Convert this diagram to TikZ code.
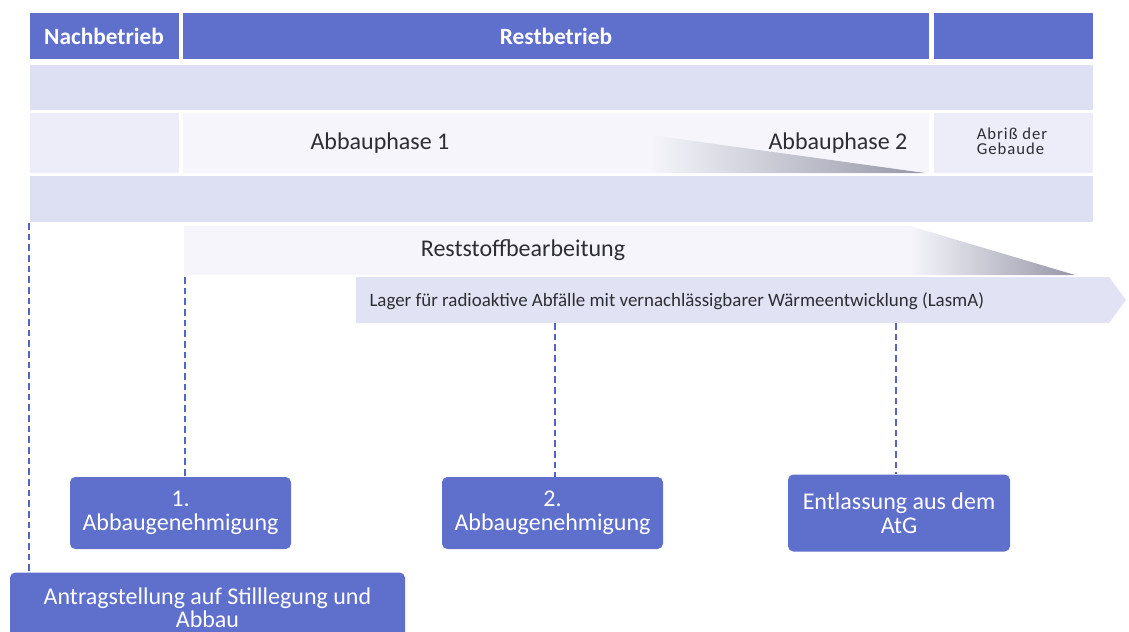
\documentclass[tikz,border=0pt]{standalone}
\usepackage{fontspec}
\setmainfont{Carlito}
\usetikzlibrary{positioning}

\definecolor{hdrblue}{RGB}{94,111,204}
\definecolor{bandlav}{RGB}{221,223,243}
\definecolor{celllav}{RGB}{236,237,248}
\definecolor{rowwhite}{RGB}{245,245,251}
\definecolor{lagerlav}{RGB}{225,227,245}
\definecolor{dashblue}{RGB}{84,100,196}
\definecolor{txtgrey}{RGB}{45,45,52}
\definecolor{wedgegrey}{RGB}{150,150,168}

\tikzset{every picture/.style={line width=0.75pt}}
\tikzset{
  hdrtext/.style={text=white, font=\bfseries\fontsize{17.5}{20}\selectfont},
  phasetext/.style={text=txtgrey, font=\fontsize{18}{21}\selectfont},
  milestone/.style={fill=hdrblue, draw=none, rounded corners=4pt, text=white, align=center,
    font=\fontsize{18}{18}\selectfont, inner sep=0pt},
  linkline/.style={dashblue, dash pattern=on 5pt off 3pt, line width=1.5pt}
}

\begin{document}
\begin{tikzpicture}[x=0.75pt,y=0.75pt,yscale=-1,xscale=1]
\useasboundingbox (0,0) rectangle (1129,632);

%Header row
\fill [hdrblue] (30,13) rectangle (179,59);
\fill [hdrblue] (183,13) rectangle (929,59);
\fill [hdrblue] (934,13) rectangle (1093,59);
% Text Node
\node [hdrtext] (nach) at (104,36) {Nachbetrieb};
% Text Node
\node [hdrtext] (rest) at (556,36) {Restbetrieb};

%Bands
\fill [bandlav] (30,65) rectangle (1093,110);
\fill [celllav] (30,113) rectangle (179,173);
\fill [rowwhite] (183,113) rectangle (929,173);
\fill [celllav] (934,113) rectangle (1093,173);
\fill [bandlav] (30,176) rectangle (1093,222);

%Shadow wedge of Abbauphase 2
\shade [left color=rowwhite, right color=wedgegrey] (650,135) -- (925,173) -- (650,173) -- cycle;

%Reststoff row and its wedge
\fill [rowwhite] (184,226) rectangle (910,275);
\shade [left color=rowwhite, right color=wedgegrey] (910,226) -- (1075,275) -- (910,275) -- cycle;

%Lager arrow
\fill [lagerlav] (356,277) -- (1109,277) -- (1126,300) -- (1109,323) -- (356,323) -- cycle;

% Text Node
\node [phasetext] (ph1) at (380,143) {Abbauphase 1};
% Text Node
\node [phasetext] (ph2) at (838,143) {Abbauphase 2};
% Text Node
\node [text=txtgrey, align=left, font=\addfontfeature{LetterSpace=6}\fontsize{12.5}{11.25}\selectfont] (abriss) at (1012,141) {Abriß der\\Gebaude};
% Text Node
\node [phasetext] (reststoff) at (523,250) {Reststoffbearbeitung};
% Text Node
\node [text=txtgrey, anchor=west, inner sep=0pt, font=\fontsize{14.2}{16}\selectfont] (lager) at (369,301) {Lager für radioaktive Abfälle mit vernachlässigbarer Wärmeentwicklung (LasmA)};

%Milestones
\node [milestone, minimum width=165.75pt, minimum height=54pt] (gen1) at (180.5,513) {1.\\Abbaugenehmigung};
\node [milestone, minimum width=165.75pt, minimum height=54pt] (gen2) at (552.5,513) {2.\\Abbaugenehmigung};
\node [milestone, minimum width=166.5pt, minimum height=57.75pt] (entl) at (899,513) {Entlassung aus dem\\AtG};
\node [milestone, minimum width=296.25pt, minimum height=53pt, anchor=north,
  font=\fontsize{18}{17}\selectfont] (antrag) at (207.5,572) {Antragstellung auf Stilllegung und\\Abbau};

%Dashed links
\coordinate (tAntrag) at (29,223);
\coordinate (tGen1) at (185,277);
\coordinate (tGen2) at (555,323);
\coordinate (tEntl) at (896,323);
\draw [linkline] (tAntrag) -- (tAntrag |- antrag.north);
\draw [linkline] (tGen1) -- (tGen1 |- gen1.north);
\draw [linkline] (tGen2) -- (tGen2 |- gen2.north);
\draw [linkline] (tEntl) -- (tEntl |- entl.north);

\end{tikzpicture}
\end{document}
